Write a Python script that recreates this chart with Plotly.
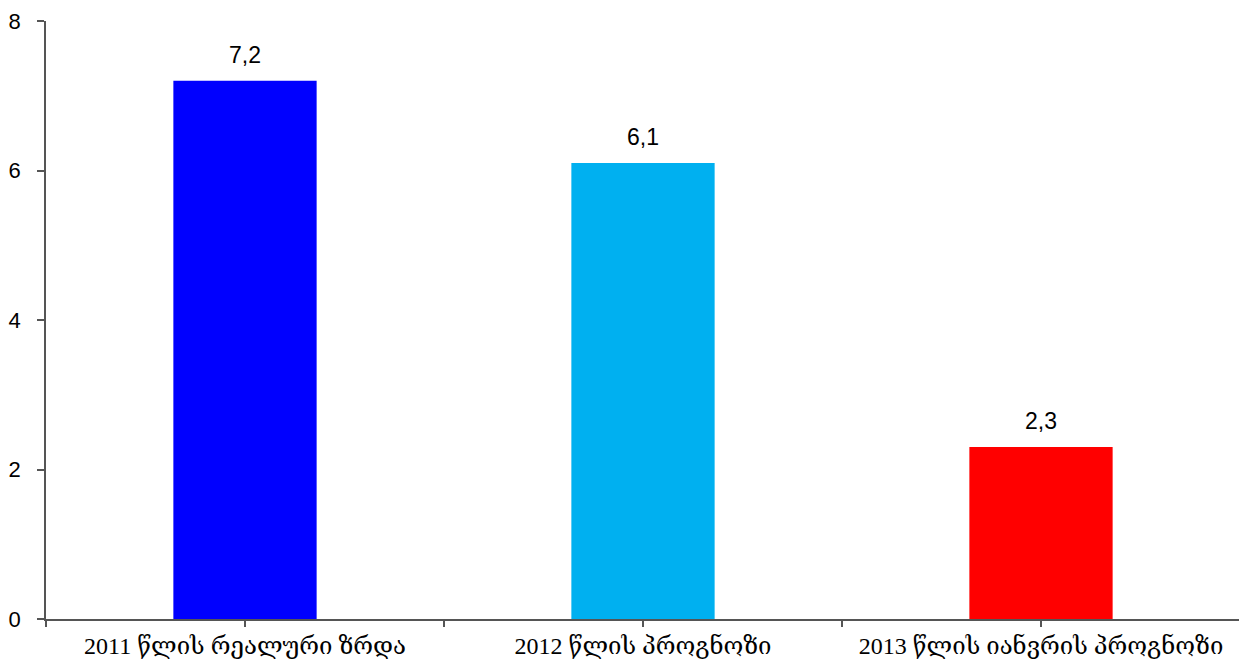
import plotly.graph_objects as go

categories = ["2011 წლის რეალური ზრდა", "2012 წლის პროგნოზი", "2013 წლის იანვრის პროგნოზი"]
values = [7.2, 6.1, 2.3]
value_labels = ["7,2", "6,1", "2,3"]
colors = ["#0000FF", "#00B0F0", "#FF0000"]
y_ticks = [0, 2, 4, 6, 8]

xs = list(range(len(categories)))

fig = go.Figure()
fig.add_trace(go.Bar(
    x=xs, y=values, width=0.36,
    marker=dict(color=colors, line=dict(width=0)),
    showlegend=False, hoverinfo="skip",
))

for x, v, t in zip(xs, values, value_labels):
    fig.add_annotation(x=x, y=v, text=t, showarrow=False, yanchor="bottom", yshift=11,
                       font=dict(family="Liberation Sans, Arial", size=23, color="#000000"))

tickvals = []
ticktext = []
for i in range(len(categories)):
    tickvals += [i - 0.5, i]
    ticktext += ["", categories[i]]
tickvals.append(len(categories) - 0.5)
ticktext.append("")

# page has an 8px body margin; margins compensate so the plot area lands where the reference has it
fig.update_layout(
    width=1239, height=653,
    margin=dict(l=38, r=7, t=13, b=42),
    paper_bgcolor="white", plot_bgcolor="white",
    xaxis=dict(
        range=[-0.5, len(categories) - 0.5],
        tickvals=tickvals, ticktext=ticktext,
        showline=True, linecolor="#555555", linewidth=1.5,
        ticks="outside", ticklen=6, tickcolor="#555555", tickwidth=1.5,
        showgrid=False, zeroline=False, automargin=False,
        ticklabelstandoff=-2,
        tickfont=dict(family="Liberation Serif, DejaVu Serif, serif", size=24, color="#000000"),
    ),
    yaxis=dict(
        range=[0, 8], tickvals=y_ticks,
        showline=True, linecolor="#555555", linewidth=1.5,
        ticks="outside", ticklen=7, tickcolor="#555555", tickwidth=1.5,
        showgrid=False, zeroline=False, automargin=False,
        ticklabelstandoff=12,
        tickfont=dict(family="Liberation Sans, Arial", size=22, color="#000000"),
    ),
)

fig.write_html("out.html")
